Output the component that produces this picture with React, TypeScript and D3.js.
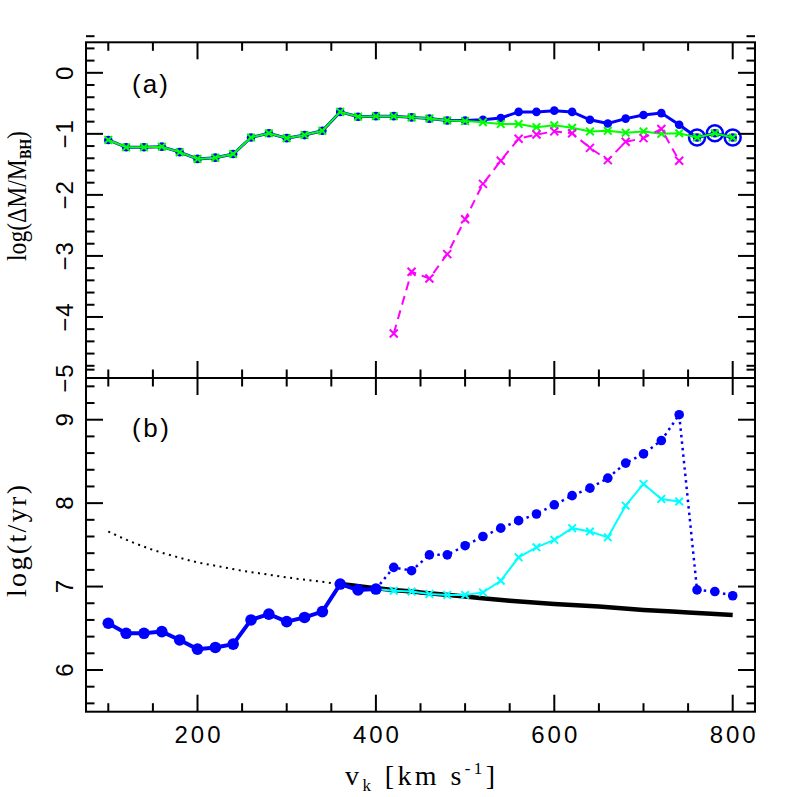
import React from "react";
import * as d3 from "d3";

// ---------- data ----------
const vA = [100, 120, 140, 160, 180, 200, 220, 240, 260, 280, 300, 320, 340, 360, 380, 400, 420, 440, 460, 480, 500, 520, 540, 560, 580, 600, 620, 640, 660, 680, 700, 720, 740, 760, 780, 800];
const blueA = [-1.10, -1.22, -1.22, -1.21, -1.30, -1.41, -1.39, -1.33, -1.06, -0.99, -1.07, -1.02, -0.95, -0.64, -0.72, -0.71, -0.71, -0.73, -0.75, -0.78, -0.78, -0.77, -0.74, -0.64, -0.64, -0.62, -0.64, -0.77, -0.83, -0.75, -0.69, -0.66, -0.85, -1.06, -0.99, -1.06];
const greenA = [-1.10, -1.22, -1.22, -1.21, -1.30, -1.41, -1.39, -1.33, -1.06, -0.99, -1.07, -1.02, -0.95, -0.64, -0.72, -0.71, -0.71, -0.73, -0.75, -0.78, -0.79, -0.81, -0.84, -0.84, -0.89, -0.86, -0.90, -0.96, -0.95, -0.98, -0.96, -1.00, -0.99, -1.06, -0.99, -1.06];
const ringV = [760, 780, 800];
const ringA = [-1.06, -0.99, -1.06];
const magentaV = [420, 440, 460, 480, 500, 520, 540, 560, 580, 600, 620, 640, 660, 680, 700, 720, 740];
const magentaA = [-4.27, -3.26, -3.37, -2.97, -2.40, -1.82, -1.44, -1.08, -1.01, -0.96, -0.99, -1.23, -1.43, -1.13, -1.07, -0.92, -1.44];

const blueSolidV = [100, 120, 140, 160, 180, 200, 220, 240, 260, 280, 300, 320, 340, 360, 380, 400];
const blueSolidB = [6.56, 6.44, 6.44, 6.46, 6.36, 6.25, 6.27, 6.31, 6.60, 6.67, 6.58, 6.63, 6.70, 7.03, 6.96, 6.97];
const blueDotV = [400, 420, 440, 460, 480, 500, 520, 540, 560, 580, 600, 620, 640, 660, 680, 700, 720, 740, 760, 780, 800];
const blueDotB = [6.97, 7.23, 7.19, 7.38, 7.38, 7.49, 7.60, 7.70, 7.79, 7.87, 7.98, 8.09, 8.18, 8.30, 8.48, 8.59, 8.75, 9.06, 6.96, 6.94, 6.89];
const cyanV = [400, 420, 440, 460, 480, 500, 520, 540, 560, 580, 600, 620, 640, 660, 680, 700, 720, 740];
const cyanB = [6.97, 6.95, 6.94, 6.91, 6.90, 6.90, 6.93, 7.07, 7.35, 7.47, 7.56, 7.70, 7.66, 7.59, 7.97, 8.23, 8.05, 8.02];
const modelDotV = [100, 125, 150, 175, 200, 225, 250, 275, 300, 330, 360];
const modelDotB = [7.66, 7.54, 7.44, 7.36, 7.29, 7.24, 7.19, 7.15, 7.11, 7.07, 7.03];
const modelSolidV = [360, 400, 450, 500, 550, 600, 650, 700, 750, 800];
const modelSolidB = [7.03, 6.98, 6.93, 6.88, 6.83, 6.79, 6.76, 6.72, 6.69, 6.66];

const xMajor = [200, 400, 600, 800];
const xMinor = [100, 150, 250, 300, 350, 450, 500, 550, 650, 700, 750];
const yAMajor = [0, -1, -2, -3, -4, -5];
const yBMajor = [6, 7, 8, 9];

// ---------- layout ----------
const L = 86, R = 755, T = 42.3, MID = 378, B = 711.7;
const x = d3.scaleLinear().domain([75, 825]).range([L, R]);
const yA = d3.scaleLinear().domain([-5, 0.5]).range([MID, T]);
const yB = d3.scaleLinear().domain([5.5, 9.5]).range([B, MID]);

const MAJ = 17, MIN = 8.5;
const sans = "'Liberation Sans', Arial, sans-serif";
const serif = "'Liberation Serif', 'Times New Roman', serif";

const minorY = (lo: number, hi: number) => {
  const out: number[] = [];
  for (let k = Math.round(lo * 5); k <= Math.round(hi * 5); k++) {
    if (k % 5 !== 0) out.push(k / 5);
  }
  return out;
};

const fmt = (v: number) => (v < 0 ? "\u2212" + Math.abs(v) : String(v));

function Cross({ cx, cy, s, color, w }: { cx: number; cy: number; s: number; color: string; w: number }) {
  return (
    <path
      d={`M${cx - s},${cy - s}L${cx + s},${cy + s}M${cx - s},${cy + s}L${cx + s},${cy - s}`}
      stroke={color}
      strokeWidth={w}
      fill="none"
    />
  );
}

function Frame({ y, top, bottom, major, minor }: any) {
  const els: any[] = [];
  xMajor.forEach((v, i) => {
    els.push(<line key={"xtM" + i} x1={x(v)} x2={x(v)} y1={top} y2={top + MAJ} />);
    els.push(<line key={"xbM" + i} x1={x(v)} x2={x(v)} y1={bottom} y2={bottom - MAJ} />);
  });
  xMinor.forEach((v, i) => {
    els.push(<line key={"xtm" + i} x1={x(v)} x2={x(v)} y1={top} y2={top + MIN} />);
    els.push(<line key={"xbm" + i} x1={x(v)} x2={x(v)} y1={bottom} y2={bottom - MIN} />);
  });
  major.forEach((v: number, i: number) => {
    els.push(<line key={"ylM" + i} x1={L} x2={L + MAJ} y1={y(v)} y2={y(v)} />);
    els.push(<line key={"yrM" + i} x1={R} x2={R - MAJ} y1={y(v)} y2={y(v)} />);
  });
  minor.forEach((v: number, i: number) => {
    els.push(<line key={"ylm" + i} x1={L} x2={L + MIN} y1={y(v)} y2={y(v)} />);
    els.push(<line key={"yrm" + i} x1={R} x2={R - MIN} y1={y(v)} y2={y(v)} />);
  });
  return (
    <g stroke="#000" strokeWidth={2} fill="none">
      {els}
      <rect x={L} y={top} width={R - L} height={bottom - top} />
    </g>
  );
}

export default function App() {
  const lineA = d3.line<[number, number]>().x((d) => x(d[0])).y((d) => yA(d[1]));
  const lineB = d3.line<[number, number]>().x((d) => x(d[0])).y((d) => yB(d[1]));
  const smoothB = d3
    .line<[number, number]>()
    .x((d) => x(d[0]))
    .y((d) => yB(d[1]))
    .curve(d3.curveMonotoneX);

  const blueAPts = vA.map((v, i) => [v, blueA[i]] as [number, number]);
  const greenAPts = vA.map((v, i) => [v, greenA[i]] as [number, number]);
  const magPts = magentaV.map((v, i) => [v, magentaA[i]] as [number, number]);
  const bsPts = blueSolidV.map((v, i) => [v, blueSolidB[i]] as [number, number]);
  const bdPts = blueDotV.map((v, i) => [v, blueDotB[i]] as [number, number]);
  const cyPts = cyanV.map((v, i) => [v, cyanB[i]] as [number, number]);
  const mdPts = modelDotV.map((v, i) => [v, modelDotB[i]] as [number, number]);
  const msPts = modelSolidV.map((v, i) => [v, modelSolidB[i]] as [number, number]);

  return (
    <svg width={797} height={797} style={{ position: "absolute", left: 0, top: 0, background: "#fff" }}>
      <rect width={797} height={797} fill="#fff" />

      {/* ---------- panel (a) ---------- */}
      <path d={lineA(blueAPts) || ""} stroke="#0000ff" strokeWidth={3} fill="none" />
      {blueAPts.map((d, i) => (
        <circle key={"ba" + i} cx={x(d[0])} cy={yA(d[1])} r={4.3} fill="#0000ff" />
      ))}
      {ringV.map((v, i) => (
        <circle key={"ring" + i} cx={x(v)} cy={yA(ringA[i])} r={8} fill="none" stroke="#0000ff" strokeWidth={2.5} />
      ))}
      <path d={lineA(greenAPts) || ""} stroke="#00ff00" strokeWidth={2} fill="none" />
      {greenAPts.map((d, i) => (
        <Cross key={"ga" + i} cx={x(d[0])} cy={yA(d[1])} s={3.8} color="#00ff00" w={2} />
      ))}
      <path d={lineA(magPts) || ""} stroke="#ff00ff" strokeWidth={2} strokeDasharray="9 6" fill="none" />
      {magPts.map((d, i) => (
        <Cross key={"ma" + i} cx={x(d[0])} cy={yA(d[1])} s={4} color="#ff00ff" w={2} />
      ))}

      {/* ---------- panel (b) ---------- */}
      <path d={smoothB(mdPts) || ""} stroke="#000" strokeWidth={2} strokeDasharray="2 4.5" fill="none" />
      <path d={smoothB(msPts) || ""} stroke="#000" strokeWidth={4.5} fill="none" />
      <path d={lineB(cyPts) || ""} stroke="#00ffff" strokeWidth={2} fill="none" />
      {cyPts.map((d, i) => (
        <Cross key={"cy" + i} cx={x(d[0])} cy={yB(d[1])} s={3.8} color="#00ffff" w={2} />
      ))}
      <path d={lineB(bdPts) || ""} stroke="#0000ff" strokeWidth={2.5} strokeDasharray="2.5 4" fill="none" />
      {bdPts.slice(1).map((d, i) => (
        <circle key={"bd" + i} cx={x(d[0])} cy={yB(d[1])} r={4.8} fill="#0000ff" />
      ))}
      <path d={lineB(bsPts) || ""} stroke="#0000ff" strokeWidth={4} fill="none" />
      {bsPts.map((d, i) => (
        <circle key={"bs" + i} cx={x(d[0])} cy={yB(d[1])} r={5.8} fill="#0000ff" />
      ))}

      {/* ---------- frames ---------- */}
      <Frame y={yA} top={T} bottom={MID} major={yAMajor} minor={minorY(-5, 0.5)} />
      <Frame y={yB} top={MID} bottom={B} major={yBMajor} minor={minorY(5.5, 9.5)} />

      {/* ---------- tick labels ---------- */}
      <g fontFamily={sans} fontSize={24} fill="#000">
        {xMajor.map((v) => (
          <text key={"xl" + v} x={x(v)} y={743} textAnchor="middle" textLength={46} lengthAdjust="spacing">
            {v}
          </text>
        ))}
        {yAMajor.map((v) => (
          <text key={"yal" + v} transform={`translate(73,${yA(v)}) rotate(-90)`} textAnchor="middle" letterSpacing={1}>
            {fmt(v)}
          </text>
        ))}
        {yBMajor.map((v) => (
          <text key={"ybl" + v} transform={`translate(73,${yB(v)}) rotate(-90)`} textAnchor="middle">
            {fmt(v)}
          </text>
        ))}
      </g>

      {/* ---------- panel labels ---------- */}
      <text x={132} y={93} fontFamily={sans} fontSize={26} textLength={36} lengthAdjust="spacing">(a)</text>
      <text x={132} y={437} fontFamily={sans} fontSize={26} textLength={37} lengthAdjust="spacing">(b)</text>

      {/* ---------- axis titles ---------- */}
      <text
        transform={`translate(26,196) rotate(-90)`}
        textAnchor="middle"
        fontFamily={serif}
        fontSize={27}
        textLength={130}
        lengthAdjust="spacingAndGlyphs"
      >
        log(ΔM/M<tspan fontSize={16} dy={5} fontWeight="bold">BH</tspan><tspan dy={-5}>)</tspan>
      </text>
      <text
        transform={`translate(26,541) rotate(-90)`}
        textAnchor="middle"
        fontFamily={serif}
        fontSize={28}
        textLength={112}
        lengthAdjust="spacing"
      >
        log(t/yr)
      </text>
      <text x={420} y={785} textAnchor="middle" fontFamily={serif} fontSize={28} textLength={150} lengthAdjust="spacing">
        v<tspan fontSize={17} dy={6}>k</tspan>
        <tspan dy={-6}> [km s</tspan>
        <tspan fontSize={17} dy={-11}>-1</tspan>
        <tspan dy={11}>]</tspan>
      </text>
    </svg>
  );
}
